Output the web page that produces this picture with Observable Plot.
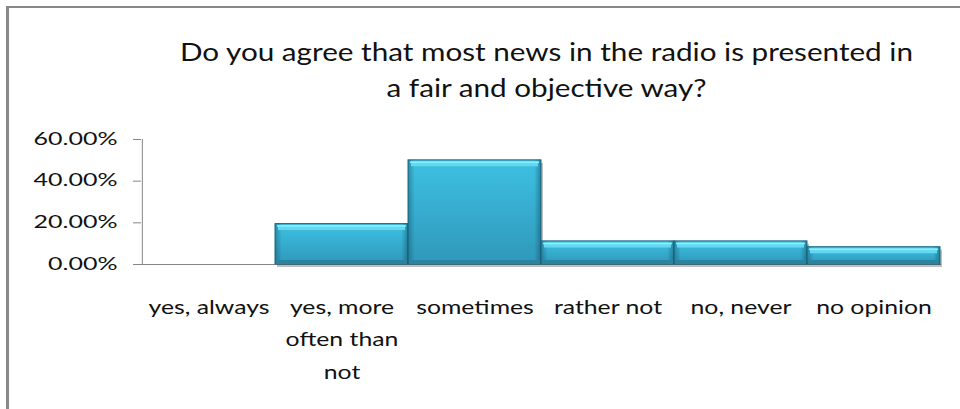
<!DOCTYPE html>
<html>
<head>
<meta charset="utf-8">
<script src="https://cdn.jsdelivr.net/npm/d3@7"></script>
<script src="https://cdn.jsdelivr.net/npm/@observablehq/plot@0.6"></script>
<style>
  html, body { margin: 0; padding: 0; background: #fff; }
  #wrap { position: relative; width: 960px; height: 409px; overflow: hidden; }
  #border { position: absolute; left: 6px; top: 6px; width: 1200px; height: 600px;
            border-left: 3px solid #888; border-top: 2px solid #888; pointer-events: none; }
  #wrap svg { position: absolute; left: 0; top: 0; }
</style>
</head>
<body>
<div id="wrap"><div id="border"></div></div>
<script>
const categories = ["yes, always", "yes, more often than not", "sometimes", "rather not", "no, never", "no opinion"];
const tickLabels = ["yes, always", "yes, more\noften than\nnot", "sometimes", "rather not", "no, never", "no opinion"];
const values = [0, 0.194, 0.50, 0.111, 0.111, 0.083];
const yTicks = [0, 0.2, 0.4, 0.6];
const titleLines = ["Do you agree that most news in the radio is presented in", "a fair and objective way?"];

const rows = categories.map((c, i) => ({category: c, value: values[i], label: tickLabels[i]}));
const bars = rows.filter(d => d.value > 0);

const W = 960, ML = 141, MR = 19;
const bw = (W - ML - MR) / categories.length;

const chart = Plot.plot({
  width: W, height: 409,
  marginLeft: ML, marginRight: MR, marginTop: 139, marginBottom: 145,
  style: {fontFamily: "Lato, 'Open Sans', sans-serif", fontWeight: 400, background: "transparent", color: "#000", overflow: "visible"},
  x: {type: "band", domain: categories, padding: 0, axis: null},
  y: {domain: [0, 0.6], axis: null},
  marks: [
    // title
    Plot.text([titleLines.join("\n")], {frameAnchor: "top", dx: 5, dy: -104.5, lineAnchor: "top",
      lineHeight: 1.44, fontSize: 25, fill: "#111"}),
    // y axis
    Plot.ruleX([categories[0]], {x: d => d, dx: -bw / 2, y1: 0, y2: 0.6, stroke: "#868686"}),
    Plot.axisY(yTicks, {tickSize: 8, tickPadding: 16, tickFormat: d3.format(".2%"), label: null,
      fontSize: 16.5, stroke: "#868686", fill: "#111"}),
    Plot.ruleY([0], {stroke: "#868686"}),
    // shadow
    Plot.barY(bars, {x: "category", y: "value", fill: "#000", fillOpacity: 0.25, dx: 2, dy: 3}),
    // bar body
    Plot.barY(bars, {x: "category", y: "value", fill: "url(#barV)", stroke: "#1d6a83", strokeWidth: 1}),
    Plot.barY(bars, {x: "category", y: "value", fill: "url(#barH)"}),
    // bevel highlights
    Plot.tickY(bars, {x: "category", y: "value", stroke: "#62d8f1", strokeWidth: 5, dy: 3.5, insetLeft: 3, insetRight: 3}),
    Plot.tickY(bars, {x: "category", y: "value", stroke: "#8eefff", strokeWidth: 1.5, dy: 2, insetLeft: 2, insetRight: 2}),
    Plot.tickY(bars, {x: "category", y: () => 0, stroke: "#2a84a1", strokeWidth: 4, dy: -2.5, insetLeft: 1, insetRight: 1}),
    // x labels
    Plot.text(rows, {x: "category", text: "label", frameAnchor: "bottom", lineAnchor: "top",
      dy: 26.5, lineHeight: 1.7, fontSize: 19, fill: "#111"})
  ]
});

const defs = `<defs>
  <linearGradient id="barV" x1="0" y1="0" x2="0" y2="1">
    <stop offset="0" stop-color="#3ec0e3"/>
    <stop offset="1" stop-color="#2f98b9"/>
  </linearGradient>
  <linearGradient id="barH" x1="0" y1="0" x2="1" y2="0">
    <stop offset="0" stop-color="#114f63" stop-opacity="0.45"/>
    <stop offset="0.05" stop-color="#114f63" stop-opacity="0"/>
    <stop offset="0.95" stop-color="#114f63" stop-opacity="0"/>
    <stop offset="1" stop-color="#114f63" stop-opacity="0.5"/>
  </linearGradient>
</defs>`;
chart.insertAdjacentHTML("afterbegin", defs);
document.getElementById("wrap").appendChild(chart);

function stretch(group, refString, target) {
  if (!group) return;
  const nodes = [...group.querySelectorAll("text")];
  const pieces = nodes.flatMap(t => {
    const ts = t.querySelectorAll("tspan");
    return ts.length ? [...ts] : [t];
  });
  if (!pieces.length) return;
  const widths = pieces.map(p => p.getComputedTextLength());
  const ri = pieces.findIndex(p => p.textContent === refString);
  const f = target / widths[ri >= 0 ? ri : 0];
  pieces.forEach((p, i) => {
    p.setAttribute("textLength", widths[i] * f);
    p.setAttribute("lengthAdjust", "spacingAndGlyphs");
  });
}
const textGroups = [...chart.querySelectorAll('g[aria-label="text"]')];
stretch(textGroups[0], titleLines[0], 733);
stretch(textGroups[textGroups.length - 1], "yes, always", 121);
stretch(chart.querySelector('g[aria-label="y-axis tick label"]'), "60.00%", 84);
</script>
</body>
</html>
